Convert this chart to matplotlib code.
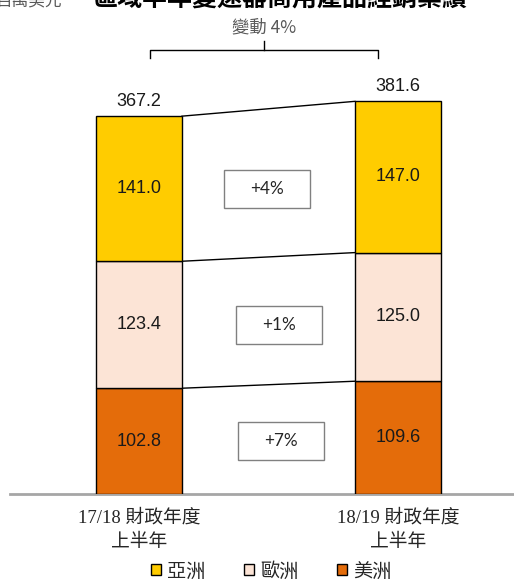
import matplotlib.pyplot as plt
from matplotlib.patches import Patch, Rectangle

# dane: sprzedaż wg regionu (mln USD), dwa półrocza
okresy = ['17/18 財政年度\n上半年', '18/19 財政年度\n上半年']
regiony = ['美洲', '歐洲', '亞洲']
wartosci = {
    '美洲': [102.8, 109.6],
    '歐洲': [123.4, 125.0],
    '亞洲': [141.0, 147.0],
}
sumy = [367.2, 381.6]
zmiany = ['+7%', '+1%', '+4%']
zmiana_ogolem = '變動 4%'
kolory = {'美洲': '#E46C0A', '歐洲': '#FCE4D6', '亞洲': '#FFCC00'}

cjk = ['Noto Sans CJK TC', 'DejaVu Sans']
szeryf = ['Liberation Serif', 'Noto Sans CJK TC']

fig = plt.figure(figsize=(5.14, 5.81), dpi=100)
ax = fig.add_axes([10 / 514, 87 / 581, 504 / 514, 411.6 / 581])

x = [0, 1]
szer = 0.332
dol = [0.0, 0.0]
granice = []
for r in regiony:
    ax.bar(x, wartosci[r], szer, bottom=dol, color=kolory[r],
           edgecolor='black', linewidth=1.0, zorder=3)
    for i in x:
        ax.text(i, dol[i] + wartosci[r][i] / 2, f'{wartosci[r][i]:.1f}',
                ha='center', va='center', fontsize=13,
                family='Liberation Sans', color='#1a1a1a', zorder=4)
    dol = [dol[i] + wartosci[r][i] for i in x]
    granice.append(list(dol))

# linie łączące górne krawędzie segmentów
for g in granice:
    ax.plot([szer / 2, 1 - szer / 2], g, color='black', linewidth=1.0, zorder=2)

# ramki ze zmianą procentową
przesuniecia = [0.548, 0.541, 0.494]
dol = 0.0
for r, z, px in zip(regiony, zmiany, przesuniecia):
    yc = dol + wartosci[r][0] / 2
    dol += wartosci[r][0]
    w, h = 86 / 259, 38 / 1.029
    ax.add_patch(Rectangle((px - w / 2, yc - h / 2), w, h, facecolor='white',
                           edgecolor='#808080', linewidth=1.0, zorder=3))
    ax.text(px, yc, z, ha='center', va='center', fontsize=12.3,
            family='Lato', color='#262626', zorder=4)

# sumy nad słupkami
for i in x:
    ax.text(i, sumy[i] + 6, f'{sumy[i]:.1f}', ha='center', va='bottom',
            fontsize=13, family='Liberation Sans', color='#1a1a1a')

# klamra nad wykresem
y0 = (494 - 58) / 1.029
y1 = (494 - 50) / 1.029
y2 = (494 - 41) / 1.029
xa, xb = (150 - 139) / 259, (378 - 139) / 259
ax.plot([xa, xa, xb, xb], [y0, y1, y1, y0], color='black', linewidth=1.0, clip_on=False)
ax.plot([(xa + xb) / 2] * 2, [y1, y2], color='black', linewidth=1.0, clip_on=False)
ax.text((xa + xb) / 2, (494 - 27) / 1.029, zmiana_ogolem, ha='center', va='center',
        fontsize=12.5, family=cjk, color='#595959')

ax.set_xlim(-129 / 259, 375 / 259)
ax.set_ylim(0, 400)
for s in ['left', 'right', 'top']:
    ax.spines[s].set_visible(False)
ax.spines['bottom'].set_color('#A6A6A6')
ax.spines['bottom'].set_linewidth(2)
ax.set_yticks([])
ax.set_xticks(x)
ax.set_xticklabels(okresy, family=szeryf, fontsize=13.5, color='#262626', linespacing=1.55)
ax.tick_params(axis='x', length=0, pad=11)

# legenda
uchwyty = [Patch(facecolor=kolory[r], edgecolor='black', linewidth=1.0) for r in ['亞洲', '歐洲', '美洲']]
fig.legend(uchwyty, ['亞洲', '歐洲', '美洲'], loc='center', bbox_to_anchor=(271 / 514, 10 / 581),
           ncol=3, frameon=False, handlelength=0.55, handleheight=0.55, handletextpad=0.3,
           columnspacing=2.0, prop={'family': cjk, 'size': 13.8}, labelcolor='#262626')

# tytuł u góry (ucięty przy krawędzi)
fig.text(93 / 514, (581 - 7) / 581, '區域半年變速器商用產品經銷業績', ha='left', va='baseline',
         fontsize=18, family=cjk, color='black', weight='bold')
fig.text(-4 / 514, (581 - 6) / 581, '百萬美元', ha='left', va='baseline',
         fontsize=12, family=cjk, color='#595959')

fig.savefig('out.png', dpi=100)
